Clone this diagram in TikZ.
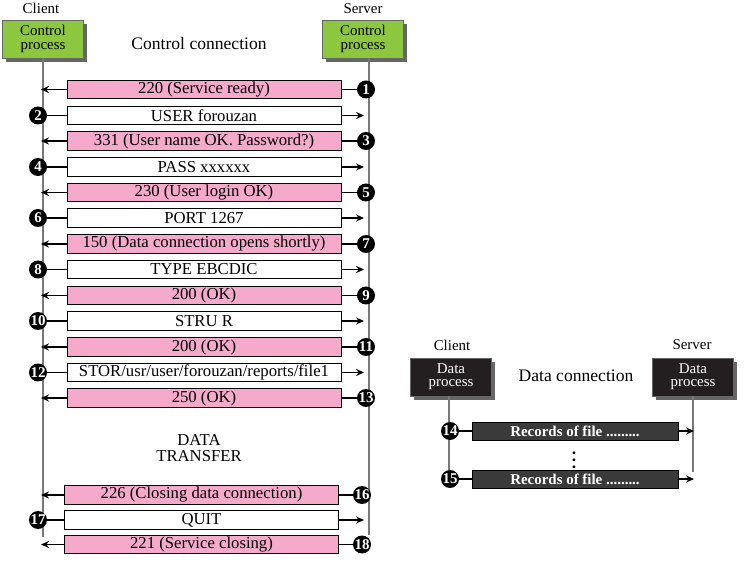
\documentclass[tikz,border=0pt]{standalone}
\usepackage{fontspec}
\setmainfont{Liberation Serif}
\usetikzlibrary{arrows.meta,shadows}

\definecolor{procgreen}{RGB}{141,198,63}
\definecolor{replypink}{RGB}{245,170,204}
\definecolor{procdark}{RGB}{35,31,32}
\definecolor{recgray}{RGB}{58,58,58}
\definecolor{lifegray}{RGB}{120,120,120}

\begin{document}
\begin{tikzpicture}
  [
    x = 0.02cm, y = -0.02cm,
    proc/.style = {draw=black!60, line width=0.4pt, minimum width=1.62cm, minimum height=0.76cm,
        inner sep=0pt, align=center, font=\fontsize{8.5}{7.6}\selectfont,
        drop shadow={shadow xshift=2.2pt, shadow yshift=-2.2pt, fill=black!60, opacity=1}},
    ctrlproc/.style = {proc, fill=procgreen},
    dataproc/.style = {proc, fill=procdark, text=white},
    msg/.style = {draw, line width=0.5pt, minimum width=5.48cm, minimum height=0.37cm,
        inner sep=0pt, font=\fontsize{9.5}{11}\selectfont},
    reply/.style = {msg, fill=replypink},
    cmd/.style = {msg, fill=white},
    record/.style = {draw, line width=0.5pt, fill=recgray, text=white, minimum width=4.12cm,
        minimum height=0.36cm, inner sep=0pt, font=\fontsize{8.5}{10}\selectfont\bfseries},
    num/.style = {circle, fill=black, text=white, minimum size=0.36cm, inner sep=0pt,
        font=\fontsize{8.5}{8}\selectfont\bfseries},
    wire/.style = {line width=1.1pt},
    arr/.style = {line width=1.1pt, -{Stealth[length=4.5pt, width=4pt]}},
    life/.style = {draw=lifegray, line width=0.8pt},
    lbl/.style = {font=\fontsize{8.5}{10}\selectfont},
  ]
  \useasboundingbox (0,0) rectangle (744,563);

  % control connection
  \node[lbl] (cname) at (41,8) {Client};
  \node[lbl] (sname) at (363,9) {Server};
  \node[ctrlproc] (cproc) at (43,39) {Control\\process};
  \node[ctrlproc] (sproc) at (363,39) {Control\\process};
  \node[font=\fontsize{10}{12}\selectfont] (ctitle) at (199,43) {Control connection};

  \coordinate (cbot) at (43,537);
  \coordinate (sbot) at (369,535);
  \coordinate (cl) at (41,0);
  \coordinate (sv) at (364,0);
  \draw[life] (cproc.south) -- (cbot);
  \draw[life] (sproc.south -| sbot) -- (sbot);

  \node[reply] (m1) at (204,89.5) {220 (Service ready)};
  \node[num] (n1) at (366,89.5) {1};
  \draw[wire] (n1) -- (m1);
  \draw[arr] (m1) -- (m1 -| cl);

  \node[cmd] (m2) at (204,115.5) {USER forouzan};
  \node[num] (n2) at (38,115.5) {2};
  \draw[wire] (n2) -- (m2);
  \draw[arr] (m2) -- (m2 -| sv);

  \node[reply] (m3) at (204,141) {331 (User name OK. Password?)};
  \node[num] (n3) at (366,141) {3};
  \draw[wire] (n3) -- (m3);
  \draw[arr] (m3) -- (m3 -| cl);

  \node[cmd] (m4) at (204,167) {PASS xxxxxx};
  \node[num] (n4) at (38,167) {4};
  \draw[wire] (n4) -- (m4);
  \draw[arr] (m4) -- (m4 -| sv);

  \node[reply] (m5) at (204,192.5) {230 (User login OK)};
  \node[num] (n5) at (366,192.5) {5};
  \draw[wire] (n5) -- (m5);
  \draw[arr] (m5) -- (m5 -| cl);

  \node[cmd] (m6) at (204,218) {PORT 1267};
  \node[num] (n6) at (38,218) {6};
  \draw[wire] (n6) -- (m6);
  \draw[arr] (m6) -- (m6 -| sv);

  \node[reply] (m7) at (204,244) {150 (Data connection opens shortly)};
  \node[num] (n7) at (366,244) {7};
  \draw[wire] (n7) -- (m7);
  \draw[arr] (m7) -- (m7 -| cl);

  \node[cmd] (m8) at (204,269.5) {TYPE EBCDIC};
  \node[num] (n8) at (38,269.5) {8};
  \draw[wire] (n8) -- (m8);
  \draw[arr] (m8) -- (m8 -| sv);

  \node[reply] (m9) at (204,295.5) {200 (OK)};
  \node[num] (n9) at (366,295.5) {9};
  \draw[wire] (n9) -- (m9);
  \draw[arr] (m9) -- (m9 -| cl);

  \node[cmd] (m10) at (204,321) {STRU R};
  \node[num] (n10) at (38,321) {10};
  \draw[wire] (n10) -- (m10);
  \draw[arr] (m10) -- (m10 -| sv);

  \node[reply] (m11) at (204,347) {200 (OK)};
  \node[num] (n11) at (366,347) {11};
  \draw[wire] (n11) -- (m11);
  \draw[arr] (m11) -- (m11 -| cl);

  \node[cmd] (m12) at (204,372.5) {STOR/usr/user/forouzan/reports/file1};
  \node[num] (n12) at (38,372.5) {12};
  \draw[wire] (n12) -- (m12);
  \draw[arr] (m12) -- (m12 -| sv);

  \node[reply] (m13) at (204,398) {250 (OK)};
  \node[num] (n13) at (366,398) {13};
  \draw[wire] (n13) -- (m13);
  \draw[arr] (m13) -- (m13 -| cl);

  \node[align=center, font=\fontsize{9.5}{8.8}\selectfont] (xfer) at (199,448) {DATA\\TRANSFER};

  \node[reply] (m16) at (201.5,495) {226 (Closing data connection)};
  \node[num] (n16) at (362,495) {16};
  \draw[wire] (n16) -- (m16);
  \draw[arr] (m16) -- (m16 -| cl);

  \node[cmd] (m17) at (201.5,520) {QUIT};
  \node[num] (n17) at (38,520) {17};
  \draw[wire] (n17) -- (m17);
  \draw[arr] (m17) -- (m17 -| sv);

  \node[reply] (m18) at (201.5,544.5) {221 (Service closing)};
  \node[num] (n18) at (362,544.5) {18};
  \draw[wire] (n18) -- (m18);
  \draw[arr] (m18) -- (m18 -| cl);

  % data connection
  \node[lbl] (dcname) at (452,345) {Client};
  \node[lbl] (dsname) at (692,345) {Server};
  \node[dataproc] (dcproc) at (451,377) {Data\\process};
  \node[dataproc] (dsproc) at (693,377) {Data\\process};
  \node[font=\fontsize{10}{12}\selectfont] (dtitle) at (576,376) {Data connection};

  \coordinate (dcbot) at (449,472);
  \coordinate (dsbot) at (693,472);
  \coordinate (dsv) at (694,0);
  \draw[life] (dcproc.south -| dcbot) -- (dcbot);
  \draw[life] (dsproc.south -| dsbot) -- (dsbot);

  \node[record] (r14) at (575,431) {Records of file .........};
  \node[num] (n14) at (450,431) {14};
  \draw[wire] (n14) -- (r14);
  \draw[arr] (r14) -- (r14 -| dsv);

  \node[font=\bfseries] (dots) at (574,455) {$\vdots$};

  \node[record] (r15) at (575,479) {Records of file .........};
  \node[num] (n15) at (450,479) {15};
  \draw[wire] (n15) -- (r15);
  \draw[arr] (r15) -- (r15 -| dsv);

\end{tikzpicture}
\end{document}
